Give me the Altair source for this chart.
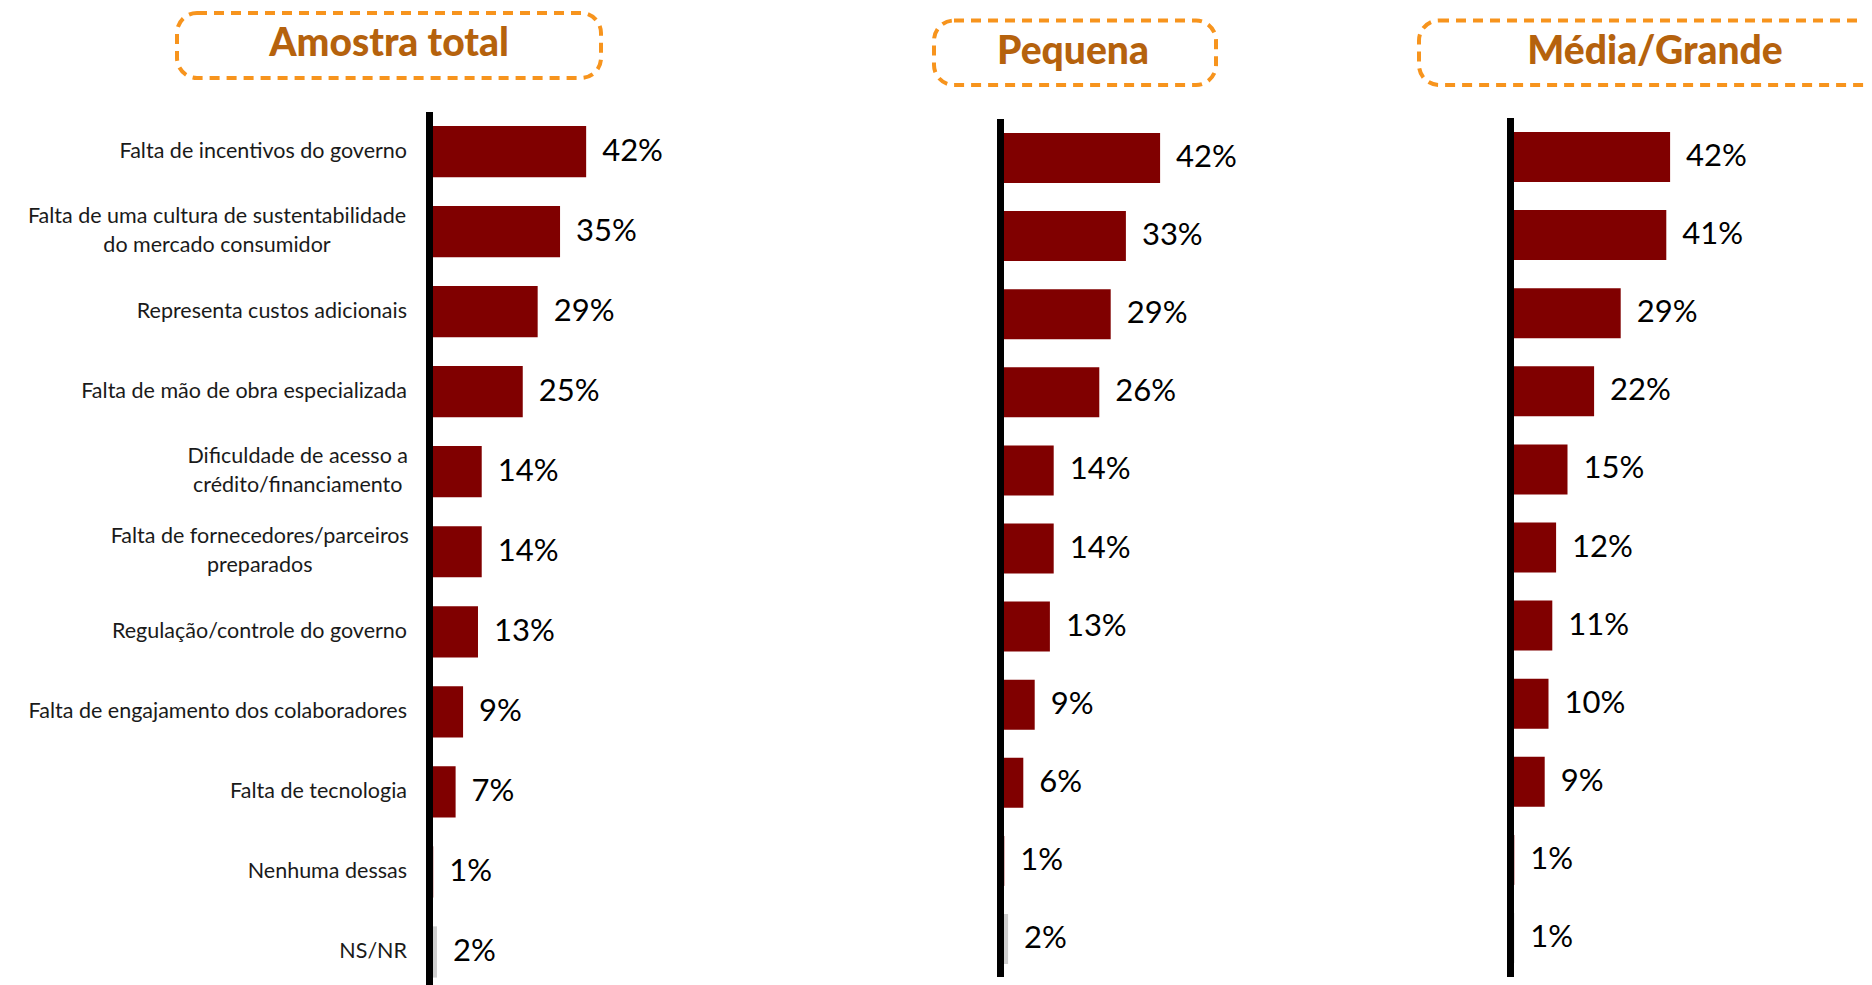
import altair as alt
import pandas as pd

# ---------------- data ----------------
categories = [
    "Falta de incentivos do governo",
    "Falta de uma cultura de sustentabilidade\ndo mercado consumidor",
    "Representa custos adicionais",
    "Falta de mão de obra especializada",
    "Dificuldade de acesso a\ncrédito/financiamento",
    "Falta de fornecedores/parceiros\npreparados",
    "Regulação/controle do governo",
    "Falta de engajamento dos colaboradores",
    "Falta de tecnologia",
    "Nenhuma dessas",
    "NS/NR",
]
amostra_total = [42, 35, 29, 25, 14, 14, 13, 9, 7, 1, 2]
pequena = [42, 33, 29, 26, 14, 14, 13, 9, 6, 1, 2]
media_grande = [42, 41, 29, 22, 15, 12, 11, 10, 9, 1, 1]
panel_titles = ["Amostra total", "Pequena", "Média/Grande"]

# ---------------- style ----------------
BAR = "#800000"
GRAY = "#cfcfcf"
BOX = "#F7941D"
TITLE_COL = "#B5620D"
FONT = "Lato"
LABEL_SIZE = 21.5
LINE_H = 29
CHAR_W = 9.5

W, H = 1856, 977


def make_df(vals):
    return pd.DataFrame({
        "cat": categories,
        "v": vals,
    })


def panel(vals, x0, k, yr, rule_top, rule_bottom, with_labels=False):
    df = make_df(vals)
    xs = alt.Scale(domain=[0, 100], range=[x0, x0 + 100 * k])
    ys = alt.Scale(domain=categories, range=yr, paddingInner=0.36, paddingOuter=0.18)
    base = alt.Chart(df).encode(
        y=alt.Y("cat:N", scale=ys, axis=None, sort=categories),
    )
    bars = base.mark_bar().encode(
        x=alt.X("v:Q", scale=xs, axis=None),
        color=alt.condition(alt.datum.cat == "NS/NR", alt.value(GRAY), alt.value(BAR)),
    )
    texts = base.transform_calculate(lbl="datum.v + '%'").mark_text(
        align="left", baseline="middle", dx=16, fontSize=31, font=FONT, color="#000000"
    ).encode(
        x=alt.X("v:Q", scale=xs, axis=None),
        text="lbl:N",
    )
    rule = alt.Chart(pd.DataFrame({"z": [0]})).mark_rule(
        color="#000000", strokeWidth=7
    ).encode(
        x=alt.X("z:Q", scale=xs, axis=None),
        y=alt.value(rule_top),
        y2=alt.value(rule_bottom),
    )
    layers = [bars, texts, rule]
    if with_labels:
        right = 399
        single = [c for c in categories if "\n" not in c]
        multi = [c for c in categories if "\n" in c]
        layers.append(
            base.transform_filter(alt.FieldOneOfPredicate(field="cat", oneOf=single))
            .mark_text(align="right", baseline="middle", fontSize=LABEL_SIZE, font=FONT, color="#1a1a1a")
            .encode(x=alt.value(right), text="cat:N")
        )
        for c in multi:
            lines = c.split("\n")
            longest = max(len(s) for s in lines)
            cx = right - longest * CHAR_W / 2
            layers.append(
                base.transform_filter(alt.FieldEqualPredicate(field="cat", equal=c))
                .mark_text(align="center", baseline="middle", fontSize=LABEL_SIZE, font=FONT,
                           color="#1a1a1a", lineBreak="\n", lineHeight=LINE_H,
                           dy=-(len(lines) - 1) * LINE_H / 2)
                .encode(x=alt.value(cx), text="cat:N")
            )
    return alt.layer(*layers)


p1 = panel(amostra_total, 421.5, 3.73, [103.5, 984.0], 104, 977, with_labels=True)
p2 = panel(pequena, 992.5, 3.80, [110.95, 970.05], 111, 969)
p3 = panel(media_grande, 1502.5, 3.80, [109.95, 969.05], 110, 969)

one = alt.Data(values=[{}])


def title_box(text, x1, x2, y1, y2, tx, ty):
    box = alt.Chart(one).mark_rect(
        filled=False, stroke=BOX, strokeWidth=4, strokeDash=[10, 7], cornerRadius=20
    ).encode(x=alt.value(x1), x2=alt.value(x2), y=alt.value(y1), y2=alt.value(y2))
    t = alt.Chart(one).mark_text(
        text=text, align="center", baseline="alphabetic", fontSize=39,
        fontWeight=900, font=FONT, color=TITLE_COL
    ).encode(x=alt.value(tx), y=alt.value(ty))
    return [box, t]


decor = []
decor += title_box(panel_titles[0], 169, 593, 5, 70, 381, 48)
decor += title_box(panel_titles[1], 926, 1208, 12.5, 77, 1065, 56)
decor += title_box(panel_titles[2], 1411, 1900, 12.5, 77, 1647, 56)

chart = alt.layer(p1, p2, p3, *decor).resolve_scale(
    x="independent", y="independent", color="independent"
).properties(
    width=W, height=H, autosize=alt.AutoSizeParams(type="none"), padding=0,
    background="#ffffff"
).configure_view(stroke=None)

chart.save("out.html", embed_options={"renderer": "svg", "actions": False})
